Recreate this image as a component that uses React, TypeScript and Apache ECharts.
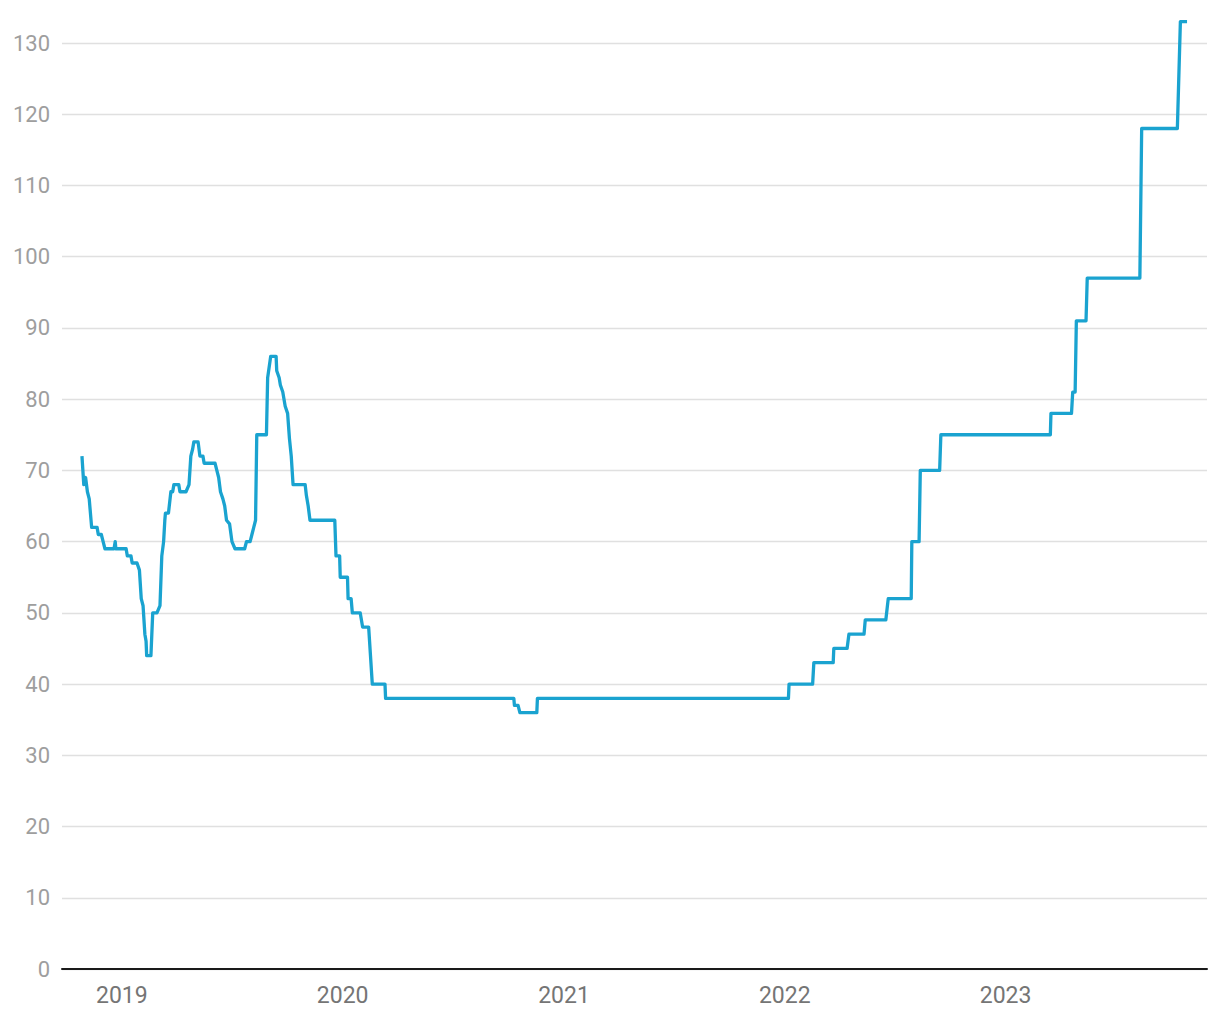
import React, { useEffect, useRef } from "react";
import * as echarts from "echarts";

// Vertices of the step-like line (date, value)
const dates: string[] = [
  "2018-10-27", "2018-10-30", "2018-11-02", "2018-11-05", "2018-11-08", "2018-11-12",
  "2018-11-21", "2018-11-23", "2018-11-28", "2018-12-01", "2018-12-04", "2018-12-19",
  "2018-12-21", "2018-12-22", "2019-01-08", "2019-01-10", "2019-01-16", "2019-01-18",
  "2019-01-26", "2019-01-30", "2019-02-02", "2019-02-05", "2019-02-08", "2019-02-10",
  "2019-02-11", "2019-02-18", "2019-02-21", "2019-02-28", "2019-03-05", "2019-03-08",
  "2019-03-11", "2019-03-13", "2019-03-14", "2019-03-19", "2019-03-23", "2019-03-26",
  "2019-03-28", "2019-04-05", "2019-04-07", "2019-04-17", "2019-04-22", "2019-04-23",
  "2019-04-25", "2019-04-28", "2019-04-30", "2019-05-07", "2019-05-10", "2019-05-15",
  "2019-05-17", "2019-06-04", "2019-06-07", "2019-06-10", "2019-06-13", "2019-06-17",
  "2019-06-20", "2019-06-23", "2019-06-28", "2019-07-02", "2019-07-07", "2019-07-23",
  "2019-07-26", "2019-08-01", "2019-08-04", "2019-08-07", "2019-08-10", "2019-08-12",
  "2019-08-28", "2019-08-30", "2019-09-04", "2019-09-13", "2019-09-14", "2019-09-18",
  "2019-09-20", "2019-09-24", "2019-09-28", "2019-10-02", "2019-10-05", "2019-10-08",
  "2019-10-11", "2019-10-31", "2019-11-02", "2019-11-05", "2019-11-08", "2019-12-19",
  "2019-12-21", "2019-12-27", "2019-12-28", "2020-01-09", "2020-01-10", "2020-01-15",
  "2020-01-17", "2020-01-30", "2020-02-03", "2020-02-13", "2020-02-16", "2020-02-19",
  "2020-03-11", "2020-03-12", "2020-10-10", "2020-10-11", "2020-10-17", "2020-10-20",
  "2020-11-17", "2020-11-18", "2022-01-07", "2022-01-08", "2022-02-16", "2022-02-18",
  "2022-03-22", "2022-03-23", "2022-04-14", "2022-04-17", "2022-05-12", "2022-05-14",
  "2022-06-17", "2022-06-21", "2022-07-29", "2022-07-30", "2022-08-11", "2022-08-13",
  "2022-09-14", "2022-09-16", "2023-03-16", "2023-03-17", "2023-04-20", "2023-04-22",
  "2023-04-26", "2023-04-28", "2023-05-14", "2023-05-16", "2023-08-11", "2023-08-14",
  "2023-10-12", "2023-10-17", "2023-10-28",
];

const values: number[] = [
  72, 68, 69, 67, 66, 62,
  62, 61, 61, 60, 59, 59,
  60, 59, 59, 58, 58, 57,
  57, 56, 52, 51, 47, 46,
  44, 44, 50, 50, 51, 58,
  60, 63, 64, 64, 67, 67,
  68, 68, 67, 67, 68, 68,
  72, 73, 74, 74, 72, 72,
  71, 71, 70, 69, 67, 66,
  65, 63, 62.5, 60, 59, 59,
  60, 60, 61, 62, 63, 75,
  75, 83, 86, 86, 84, 83,
  82, 81, 79, 78, 74.5, 72,
  68, 68, 66.5, 65, 63, 63,
  58, 58, 55, 55, 52, 52,
  50, 50, 48, 48, 44, 40,
  40, 38, 38, 37, 37, 36,
  36, 38, 38, 40, 40, 43,
  43, 45, 45, 47, 47, 49,
  49, 52, 52, 60, 60, 70,
  70, 75, 75, 78, 78, 81,
  81, 91, 91, 97, 97, 118,
  118, 133, 133,
];

const yTicks = { min: 0, max: 130, interval: 10 };
const xRange = { min: "2018-09-24", max: "2023-11-30" };

export default function App() {
  const ref = useRef<HTMLDivElement>(null);

  useEffect(() => {
    if (!ref.current) return;
    const chart = echarts.init(ref.current, null, { renderer: "svg" });
    const seriesData = dates.map((d, i) => [d, values[i]]);
    chart.setOption({
      animation: false,
      backgroundColor: "#ffffff",
      grid: { left: 62, right: 13, top: 43, bottom: 51, containLabel: false },
      xAxis: {
        type: "time",
        min: xRange.min,
        max: xRange.max,
        splitNumber: 5,
        minInterval: 365 * 24 * 3600 * 1000,
        axisLine: { show: true, lineStyle: { color: "#1a1a1a", width: 2 } },
        axisTick: { show: false },
        splitLine: { show: false },
        axisLabel: {
          formatter: "{yyyy}",
          color: "#757575",
          fontFamily: "Roboto",
          fontSize: 23,
          margin: 15,
          showMinLabel: false,
          showMaxLabel: false,
        },
      },
      yAxis: {
        type: "value",
        min: yTicks.min,
        max: yTicks.max,
        interval: yTicks.interval,
        axisLine: { show: false },
        axisTick: { show: false },
        splitLine: { show: true, lineStyle: { color: "#e0e0e0", width: 1.3 } },
        axisLabel: {
          color: "#9e9e9e",
          fontFamily: "Roboto",
          fontSize: 22,
          margin: 12,
        },
      },
      series: [
        {
          type: "line",
          data: seriesData,
          showSymbol: false,
          symbol: "none",
          clip: false,
          lineStyle: { color: "#1aa3d0", width: 3.3, join: "round" },
          z: 3,
        },
      ],
    });
    return () => chart.dispose();
  }, []);

  return (
    <div
      ref={ref}
      style={{ position: "absolute", left: 0, top: 0, width: 1220, height: 1020 }}
    />
  );
}
